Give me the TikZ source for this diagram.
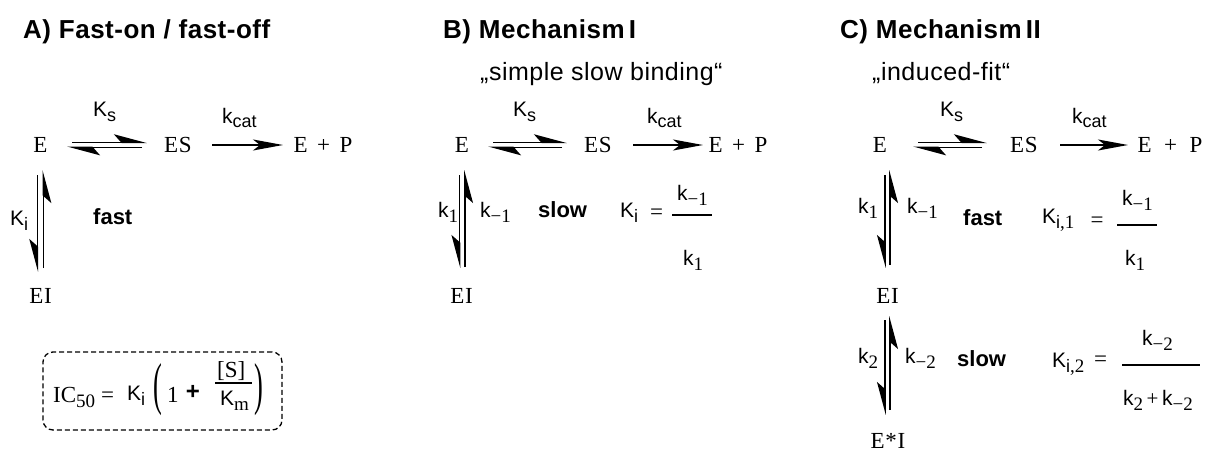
\documentclass[tikz,border=0pt]{standalone}
\usepackage{fontspec}
\setmainfont{Liberation Serif}
\newfontfamily\arialf{Liberation Sans}
\newfontfamily\titlef{Liberation Sans}[LetterSpace=2]
\newfontfamily\speciesf{Liberation Serif}[LetterSpace=3]
\newfontfamily\timesf{Liberation Serif}
\usetikzlibrary{arrows.meta,calc}
\newcommand\ssb[1]{\raisebox{-5pt}{\fontsize{18}{18}\selectfont\arialf #1}}
\newcommand\rsb[1]{\raisebox{-5pt}{\fontsize{19}{19}\selectfont\timesf #1}}
\newcommand\fracbar[1]{\rule{#1}{1.3pt}}
\tikzset{
  sp/.style={font=\fontsize{23}{27}\selectfont\speciesf, inner sep=0pt},
  lab/.style={font=\fontsize{21}{25}\selectfont\arialf, inner sep=0pt, anchor=base west},
  boldlab/.style={font=\fontsize{22}{26}\selectfont\arialf\bfseries, inner sep=0pt, anchor=base west},
  title/.style={font=\fontsize{26}{30}\selectfont\titlef\bfseries, inner sep=0pt, anchor=base west},
  subt/.style={font=\fontsize{25}{30}\selectfont\titlef, inner sep=0pt, anchor=base west},
  tms/.style={font=\fontsize{23}{27}\selectfont\timesf, inner sep=0pt, anchor=base west},
  eqsign/.style={font=\fontsize{23}{27}\selectfont\timesf, inner sep=0pt},
  barn/.style={inner sep=0pt, anchor=west},
  ln/.style={line width=1.6pt},
  fullarr/.style={ln, -{Stealth[length=30pt,width=11pt,inset=7pt]}},
  harp/.style={ln, -{Stealth[length=30pt,width=16pt,inset=7pt,harpoon]}},
  harps/.style={ln, -{Stealth[length=30pt,width=16pt,inset=7pt,harpoon,swap]}},
  icbox/.style={draw, line width=1.3pt, dash pattern=on 5pt off 3pt, rounded corners=10pt, inner sep=0pt}
}
\begin{document}
\begin{tikzpicture}[x=1pt,y=1pt]
\useasboundingbox (0,0) rectangle (1211,-452);
% titles
\node[title] (tA) at (23,-39) {A) Fast-on / fast-off};
\node[title] (tB) at (443,-39) {B) Mechanism\,I};
\node[title] (tC) at (840,-39) {C) Mechanism\,II};
\node[subt] (sB) at (480,-81) {„simple slow binding“};
\node[subt] (sC) at (872,-81) {„induced-fit“};

% ---------------- Panel A
\node[sp] (EA) at (40.5,-145) {E};
\node[sp] (ESA) at (178,-145) {ES};
\node[sp] (EPA) at (323,-145) {E\hspace{3pt} + \hspace{3pt}P};
\node[sp] (EIA) at (40.5,-296) {EI};
\node[lab] (KsA) at (93,-117) {K\ssb{s}};
\node[lab] (kcatA) at (222,-123) {k\ssb{cat}};
\node[lab] (KiA) at (10,-225) {K\ssb{i}};
\node[boldlab] (fastA) at (93,-224) {fast};
\draw[harp] ($(EA)+(31.5,2.7)$) -- ($(ESA)+(-31,2.7)$);
\draw[harp] ($(ESA)+(-36,-2.3)$) -- ($(EA)+(26.5,-2.3)$);
\draw[fullarr] ($(ESA)+(34,0)$) -- ($(EPA)+(-40,0)$);
\draw[harps] ($(EIA)+(2.8,28)$) -- ($(EA)+(2.8,-25)$);
\draw[harps] ($(EA)+(-3.2,-30)$) -- ($(EIA)+(-3.2,24)$);

% IC50 box
\node[icbox, minimum width=239pt, minimum height=78pt] (box) at (162.5,-391) {};
\node[tms] (ic) at (53,-402) {IC\raisebox{-5pt}{\fontsize{19}{19}\selectfont 50}};
\node[eqsign] (eqA) at (107.5,-397) {=};
\node[lab] (KiBox) at (127,-400) {K\ssb{i}};
\node[inner sep=0pt] (lp) at (157.5,-390) {\scalebox{1.1}[2.4]{\fontsize{24}{24}\selectfont\timesf (}};
\node[tms] (one) at (167,-402) {1};
\node[inner sep=0pt, font=\fontsize{24}{28}\selectfont\arialf\bfseries] (plus) at (193,-392) {+};
\node[tms] (S) at (217,-377) {[S]};
\node[barn] (barA) at (215,-383) {\fracbar{37pt}};
\node[lab] (Km) at (220,-405) {K\rsb{m}};
\node[inner sep=0pt] (rp) at (259,-390) {\scalebox{1.1}[2.4]{\fontsize{24}{24}\selectfont\timesf )}};

% ---------------- Panel B
\node[sp] (EB) at (462,-145) {E};
\node[sp] (ESB) at (598,-145) {ES};
\node[sp] (EPB) at (738,-145) {E\hspace{3pt} + \hspace{3pt}P};
\node[sp] (EIB) at (461.5,-296) {EI};
\node[lab] (KsB) at (513,-117) {K\ssb{s}};
\node[lab] (kcatB) at (647,-123) {k\ssb{cat}};
\node[lab] (k1B) at (438,-217) {k\rsb{1}};
\node[lab] (km1B) at (480,-217) {k\rsb{−1}};
\node[boldlab] (slowB) at (538,-217) {slow};
\node[lab] (KiB) at (620,-217) {K\ssb{i}};
\node[eqsign] (eqB) at (656.5,-214.5) {=};
\node[lab] (numB) at (677,-200) {k\rsb{−1}};
\node[barn] (barB) at (672,-215) {\fracbar{40pt}};
\node[lab] (denB) at (683,-265) {k\rsb{1}};
\draw[harp] ($(EB)+(31,2.7)$) -- ($(ESB)+(-31,2.7)$);
\draw[harp] ($(ESB)+(-36,-2.3)$) -- ($(EB)+(26,-2.3)$);
\draw[fullarr] ($(ESB)+(35,0)$) -- ($(EPB)+(-35,0)$);
\draw[harps] ($(EIB)+(3.5,29)$) -- ($(EB)+(3,-25)$);
\draw[harps] ($(EB)+(-2.5,-30)$) -- ($(EIB)+(-2,28)$);

% ---------------- Panel C
\node[sp] (EC) at (880,-145) {E};
\node[sp] (ESC) at (1024,-145) {ES};
\node[sp] (EPC) at (1170,-145) {E\hspace{6pt} + \hspace{6pt}P};
\node[sp] (EIC) at (887.5,-296) {EI};
\node[sp] (ESIC) at (888,-441) {E*I};
\node[lab] (KsC) at (940,-117) {K\ssb{s}};
\node[lab] (kcatC) at (1072,-123) {k\ssb{cat}};
\node[lab] (k1C) at (858,-213) {k\rsb{1}};
\node[lab] (km1C) at (907,-213) {k\rsb{−1}};
\node[boldlab] (fastC) at (963,-225) {fast};
\node[lab] (Ki1C) at (1042,-223) {K\ssb{i}\rsb{,1}};
\node[eqsign] (eqC1) at (1097,-222) {=};
\node[lab] (numC1) at (1122,-205) {k\rsb{−1}};
\node[barn] (barC1) at (1117,-225) {\fracbar{40pt}};
\node[lab] (denC1) at (1125,-265) {k\rsb{1}};
\node[lab] (k2C) at (858,-363) {k\rsb{2}};
\node[lab] (km2C) at (905,-363) {k\rsb{−2}};
\node[boldlab] (slowC) at (957,-366) {slow};
\node[lab] (Ki2C) at (1052,-367) {K\ssb{i}\rsb{,2}};
\node[eqsign] (eqC2) at (1100.5,-361.5) {=};
\node[lab] (numC2) at (1142,-345) {k\rsb{−2}};
\node[barn] (barC2) at (1122,-365) {\fracbar{78pt}};
\node[lab] (denC2) at (1123,-405) {k\rsb{2}\,{\timesf +}\,k\rsb{−2}};
\draw[harp] ($(EC)+(38,2.7)$) -- ($(ESC)+(-37,2.7)$);
\draw[harp] ($(ESC)+(-42,-2.3)$) -- ($(EC)+(33,-2.3)$);
\draw[fullarr] ($(ESC)+(36,0)$) -- ($(EPC)+(-42,0)$);
\draw[harps] ($(EIC)+(2.5,31)$) -- ($(EC)+(10,-25)$);
\draw[harps] ($(EC)+(5,-30)$) -- ($(EIC)+(-2.5,28)$);
\draw[harps] ($(ESIC)+(2,31)$) -- ($(EIC)+(2.5,-20)$);
\draw[harps] ($(EIC)+(-2.5,-24)$) -- ($(ESIC)+(-3,26)$);
\end{tikzpicture}
\end{document}
